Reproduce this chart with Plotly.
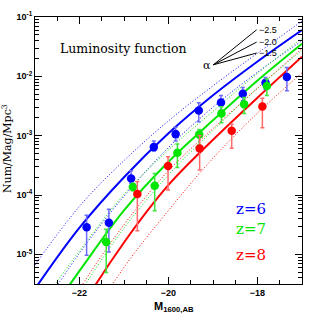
import numpy as np
import plotly.graph_objects as go

# ---- data (log10 of Num/Mag/Mpc^3) ----
mag_z6 = [-21.84, -21.34, -20.84, -20.33, -19.84, -19.32, -18.82, -18.33, -17.82, -17.34]
logphi_z6 = [-4.545, -4.466, -3.720, -3.193, -2.974, -2.576, -2.441, -2.295, -2.110, -2.010]
loghi_z6 = [-4.343, -4.242, -3.590, -3.090, -2.860, -2.447, -2.324, -2.190, -2.020, -1.850]
loglo_z6 = [-5.016, -4.960, -3.800, -3.260, -3.090, -2.767, -2.570, -2.413, -2.220, -2.245]

mag_z7 = [-21.40, -20.80, -20.31, -19.80, -19.31, -18.81, -18.30, -17.79]
logphi_z7 = [-4.791, -3.866, -3.843, -3.288, -2.980, -2.626, -2.469, -2.161]
loghi_z7 = [-4.578, -3.800, -3.636, -3.142, -2.896, -2.514, -2.357, -2.043]
loglo_z7 = [-5.307, -3.930, -4.264, -3.535, -3.159, -2.783, -2.626, -2.324]

mag_z8 = [-20.70, -20.01, -19.30, -18.58, -17.89]
logphi_z8 = [-3.984, -3.513, -3.215, -2.918, -2.509]
loghi_z8 = [-3.771, -3.356, -2.997, -2.806, -2.368]
loglo_z8 = [-4.601, -3.916, -3.580, -3.210, -2.868]

curve_mag = [-23, -22, -21, -20, -19, -18, -17]
z6_solid = [-5.58, -4.55, -3.70, -2.96, -2.32, -1.75, -1.22]
z6_dot_hi = [-5.18, -4.19, -3.42, -2.75, -2.16, -1.61, -1.07]
z6_dot_lo = [-6.10, -4.98, -4.02, -3.20, -2.52, -1.93, -1.40]
z7_solid = [-6.35, -5.28, -4.26, -3.44, -2.74, -2.07, -1.45]
z7_dot_hi = [-5.98, -4.94, -3.99, -3.24, -2.59, -1.95, -1.36]
z7_dot_lo = [-6.90, -5.66, -4.56, -3.66, -2.91, -2.20, -1.56]
z8_solid = [-7.30, -5.95, -4.80, -3.83, -3.07, -2.36, -1.67]
z8_dot_hi = [-6.90, -5.59, -4.50, -3.59, -2.88, -2.20, -1.53]
z8_dot_lo = [-7.70, -6.40, -5.22, -4.26, -3.38, -2.62, -1.94]

alpha_labels = ["-2.5", "-2.0", "-1.5"]
z_labels = ["z=6", "z=7", "z=8"]
x_tickvals = [-22, -20, -18]
y_tick_exps = [-5, -4, -3, -2, -1]

BLUE = "#0000ff"
GREEN = "#00e600"
RED = "#ff0000"
BLUE_ERR = "#6b6bff"
GREEN_ERR = "#3ce63c"
RED_ERR = "#ff6b6b"

fig = go.Figure()

def add_curve(vals, color, dash, width):
    fig.add_trace(go.Scatter(
        x=curve_mag, y=10 ** np.array(vals), mode="lines",
        line=dict(color=color, dash=dash, width=width, shape="spline", smoothing=1.0),
        hoverinfo="skip", showlegend=False))

for vals, col in [(z6_dot_hi, BLUE), (z6_dot_lo, BLUE), (z7_dot_hi, GREEN),
                  (z7_dot_lo, GREEN), (z8_dot_hi, RED), (z8_dot_lo, RED)]:
    add_curve(vals, col, "1px,2px", 1)
for vals, col in [(z6_solid, BLUE), (z7_solid, GREEN), (z8_solid, RED)]:
    add_curve(vals, col, "solid", 2)

def add_points(mag, lp, lhi, llo, color, ecolor):
    y = 10 ** np.array(lp)
    yhi = 10 ** np.array(lhi)
    ylo = 10 ** np.array(llo)
    fig.add_trace(go.Scatter(
        x=mag, y=y, mode="markers",
        marker=dict(color=color, size=8.5, line=dict(width=0)),
        error_y=dict(type="data", symmetric=False, array=yhi - y, arrayminus=y - ylo,
                     color=ecolor, thickness=1.5, width=2),
        showlegend=False))

add_points(mag_z6, logphi_z6, loghi_z6, loglo_z6, BLUE, BLUE_ERR)
add_points(mag_z7, logphi_z7, loghi_z7, loglo_z7, GREEN, GREEN_ERR)
add_points(mag_z8, logphi_z8, loghi_z8, loglo_z8, RED, RED_ERR)

# minor ticks
x_minor = list(np.arange(-23, -16.9, 0.5))
y_minor = [m * 10.0 ** e for e in range(-6, -1) for m in range(2, 10)]

tickfont = dict(family="Liberation Sans", size=9, color="black", weight="bold")

fig.update_xaxes(
    range=[-23, -17], showgrid=False, zeroline=False, automargin=False,
    showline=True, linecolor="black", linewidth=1, mirror="allticks",
    ticks="inside", ticklen=7, tickwidth=1, tickcolor="black",
    tickvals=x_tickvals, ticktext=[str(v).replace("-", "\u2212") for v in x_tickvals],
    tickfont=tickfont,
    minor=dict(tickvals=x_minor, ticks="inside", ticklen=4, tickcolor="black", showgrid=False),
)
fig.update_yaxes(
    type="log", range=[-5.5, -1], showgrid=False, zeroline=False, automargin=False,
    showline=True, linecolor="black", linewidth=1, mirror="allticks",
    ticks="inside", ticklen=7, tickwidth=1, tickcolor="black",
    tickvals=[10.0 ** e for e in y_tick_exps],
    ticktext=["10<sup>%d</sup>" % e for e in y_tick_exps],
    tickfont=tickfont,
    minor=dict(tickvals=y_minor, ticks="inside", ticklen=4, tickcolor="black", showgrid=False),
)

serif = "DejaVu Serif"
annotations = [
    dict(text="Luminosity function", x=0.085, y=0.881, xref="paper", yref="paper",
         xanchor="left", yanchor="middle", showarrow=False,
         font=dict(family=serif, size=12.5, color="black")),
    dict(text="\u03b1", x=0.665, y=0.818, xref="paper", yref="paper",
         xanchor="right", yanchor="middle", showarrow=False,
         font=dict(family=serif, size=11, color="black")),
    dict(text="Num/Mag/Mpc<sup>3</sup>", x=-0.105, y=0.509, xref="paper", yref="paper",
         xanchor="center", yanchor="middle", textangle=-90, showarrow=False,
         font=dict(family=serif, size=11, color="black")),
    dict(text="M<sub>1600,AB</sub>", x=0.52, y=-0.085, xref="paper", yref="paper",
         xanchor="center", yanchor="middle", showarrow=False,
         font=dict(family="Liberation Sans", size=11, color="black", weight="bold")),
]
alpha_y = [0.952, 0.906, 0.865]
for lab, yy in zip(alpha_labels, alpha_y):
    annotations.append(dict(text=lab.replace("-", "\u2212"), x=0.833, y=yy, xref="paper", yref="paper",
                            xanchor="left", yanchor="middle", showarrow=False,
                            font=dict(family="Liberation Sans", size=9, color="black")))
z_y = [0.282, 0.205, 0.108]
for lab, yy, col in zip(z_labels, z_y, [BLUE, GREEN, RED]):
    annotations.append(dict(text=lab, x=0.747, y=yy, xref="paper", yref="paper",
                            xanchor="left", yanchor="middle", showarrow=False,
                            font=dict(family=serif, size=15, color=col)))

shapes = []
for yy in alpha_y:
    shapes.append(dict(type="line", xref="paper", yref="paper",
                       x0=0.668, y0=0.821, x1=0.830, y1=yy,
                       line=dict(color="black", width=1)))

fig.update_layout(
    width=319, height=319,
    margin=dict(l=35, r=17, t=17, b=35),
    paper_bgcolor="white", plot_bgcolor="white",
    annotations=annotations, shapes=shapes,
    showlegend=False,
)

fig.write_html("out.html", config={"displayModeBar": False, "staticPlot": True},
               post_script="document.body.style.margin='0px';document.body.style.padding='0px';")
